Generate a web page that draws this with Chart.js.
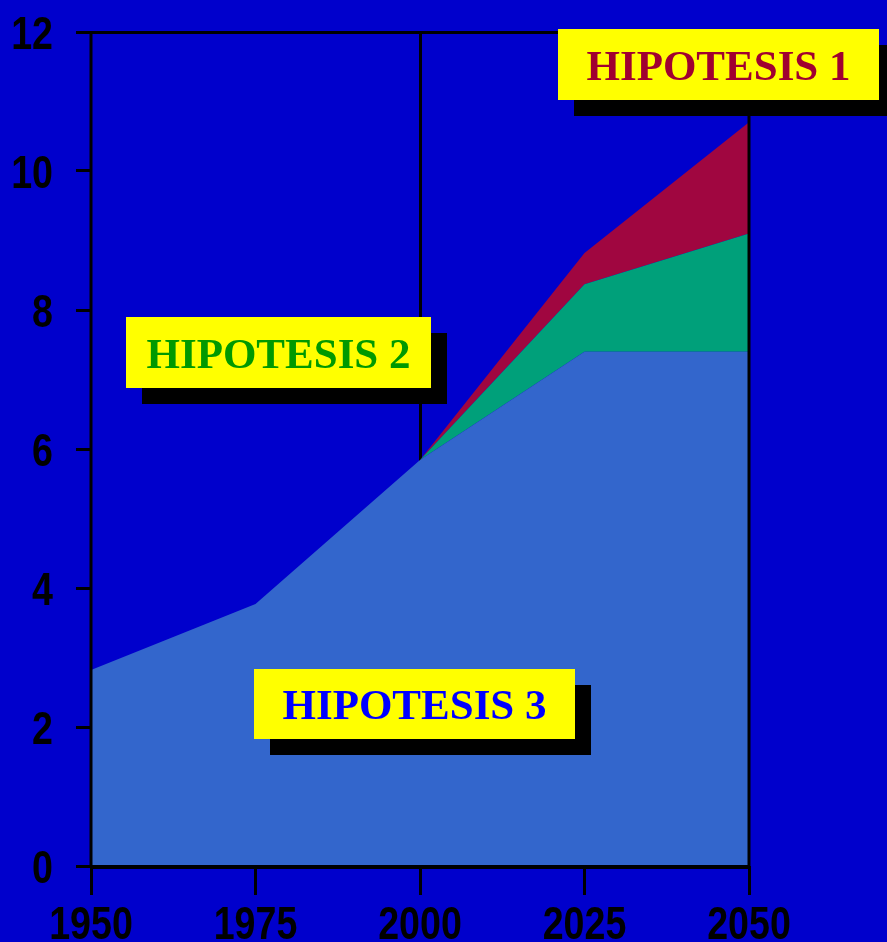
<!DOCTYPE html>
<html>
<head>
<meta charset="utf-8">
<script src="https://cdn.jsdelivr.net/npm/chart.js@4.4.1/dist/chart.umd.min.js"></script>
<style>
    html, body { margin: 0; padding: 0; background: #0000CC; overflow: hidden; }
    #wrap { width: 887px; height: 942px; }
</style>
</head>
<body>
<div id="wrap"><canvas id="grafico"></canvas></div>
<script>
// years along the bottom axis
const years = [1950, 1975, 2000, 2025, 2050];
// population totals (already cumulative, not stacked)
const hipotesis3 = [2.82, 3.77, 5.84, 7.40, 7.40];
const hipotesis2 = [2.82, 3.77, 5.84, 8.37, 9.10];
const hipotesis1 = [2.82, 3.77, 5.84, 8.82, 10.70];
const seriesNames = ['HIPOTESIS 3', 'HIPOTESIS 2', 'HIPOTESIS 1'];
const yTicks = [0, 2, 4, 6, 8, 10, 12];

const toPoints = (vals) => vals.map((v, i) => ({ x: years[i], y: v }));

// frame lines drawn after the areas so they stay visible
var frame = {
    id: 'frame',
    afterDatasetsDraw(chart) {
        const { ctx, chartArea: { left, right, top, bottom } } = chart;
        ctx.save();
        ctx.strokeStyle = '#000';
        ctx.lineWidth = 3;
        ctx.beginPath();
        ctx.moveTo(left, top);
        ctx.lineTo(left, bottom);
        ctx.moveTo(right, top);
        ctx.lineTo(right, bottom);
        ctx.stroke();
        ctx.lineWidth = 4;
        ctx.beginPath();
        ctx.moveTo(left - 1, bottom + 1);
        ctx.lineTo(right + 1, bottom + 1);
        ctx.stroke();
        ctx.restore();
    }
};

// narrow bold tick labels (no Arial Narrow here, so squeeze Liberation Sans)
var narrowTicks = {
    id: 'narrowTicks',
    afterDraw(chart) {
        const ctx = chart.ctx;
        const xs = chart.scales.x, ys = chart.scales.y;
        ctx.save();
        ctx.fillStyle = '#000';
        ctx.font = "bold 47px 'Liberation Sans', Arial, sans-serif";
        ctx.textBaseline = 'alphabetic';
        yTicks.forEach((v) => {
            ctx.save();
            ctx.translate(xs.left - 38, ys.getPixelForValue(v) + 17);
            ctx.scale(0.8, 1);
            ctx.textAlign = 'right';
            ctx.fillText(String(v), 0, 0);
            ctx.restore();
        });
        years.forEach((v) => {
            ctx.save();
            ctx.translate(xs.getPixelForValue(v), ys.bottom + 73);
            ctx.scale(0.8, 1);
            ctx.textAlign = 'center';
            ctx.fillText(String(v), 0, 0);
            ctx.restore();
        });
        ctx.restore();
    }
};

// yellow label boxes with black drop shadow
const boxes = [
    { text: seriesNames[2], color: '#A00030', x: 558, y: 29, w: 321, h: 71 },
    { text: seriesNames[1], color: '#009900', x: 126, y: 317, w: 305, h: 71 },
    { text: seriesNames[0], color: '#0000FF', x: 254, y: 669, w: 321, h: 70 }
];

var labelBoxes = {
    id: 'labelBoxes',
    afterDraw(chart) {
        const ctx = chart.ctx;
        ctx.save();
        boxes.forEach((b) => {
            ctx.fillStyle = '#000';
            ctx.fillRect(b.x + 16, b.y + 16, b.w, b.h);
            ctx.fillStyle = '#FFFF00';
            ctx.fillRect(b.x, b.y, b.w, b.h);
            ctx.fillStyle = b.color;
            ctx.font = "bold 43px 'Liberation Serif', 'Times New Roman', serif";
            ctx.textAlign = 'center';
            ctx.textBaseline = 'alphabetic';
            ctx.fillText(b.text, b.x + b.w / 2, b.y + b.h / 2 + 15);
        });
        ctx.restore();
    }
};

var config = {
    type: 'line',
    data: {
        datasets: [
            { label: seriesNames[0], data: toPoints(hipotesis3), backgroundColor: '#3366CC', fill: 'origin' },
            { label: seriesNames[1], data: toPoints(hipotesis2), backgroundColor: '#00A07A', fill: '-1' },
            { label: seriesNames[2], data: toPoints(hipotesis1), backgroundColor: '#A00640', fill: '-1' }
        ].map((d) => Object.assign(d, { borderWidth: 0, pointRadius: 0, tension: 0, borderColor: 'transparent' }))
    },
    options: {
        responsive: true,
        maintainAspectRatio: false,
        animation: { duration: 0 },
        layout: { padding: { top: 32, right: 138, left: 0, bottom: 0 } },
        plugins: {
            legend: { display: false },
            tooltip: { enabled: false }
        },
        scales: {
            x: {
                type: 'linear',
                min: years[0],
                max: years[years.length - 1],
                border: { display: false },
                grid: {
                    color: (c) => (c.tick && c.tick.value === 2000 ? '#000' : 'transparent'),
                    lineWidth: 3,
                    tickColor: '#000',
                    tickWidth: 3,
                    tickLength: 29
                },
                ticks: { stepSize: 25, display: false },
                afterFit(scale) { scale.height = 76; }
            },
            y: {
                min: 0,
                max: 12,
                border: { display: false },
                afterBuildTicks(scale) { scale.ticks = yTicks.map((v) => ({ value: v })); },
                grid: {
                    color: (c) => (c.tick && c.tick.value === 12 ? '#000' : 'transparent'),
                    lineWidth: 3,
                    tickColor: '#000',
                    tickWidth: 3,
                    tickLength: 15
                },
                ticks: { display: false },
                afterFit(scale) { scale.width = 91; }
            }
        }
    },
    plugins: [frame, narrowTicks, labelBoxes]
};

new Chart(document.getElementById('grafico'), config);
</script>
</body>
</html>
